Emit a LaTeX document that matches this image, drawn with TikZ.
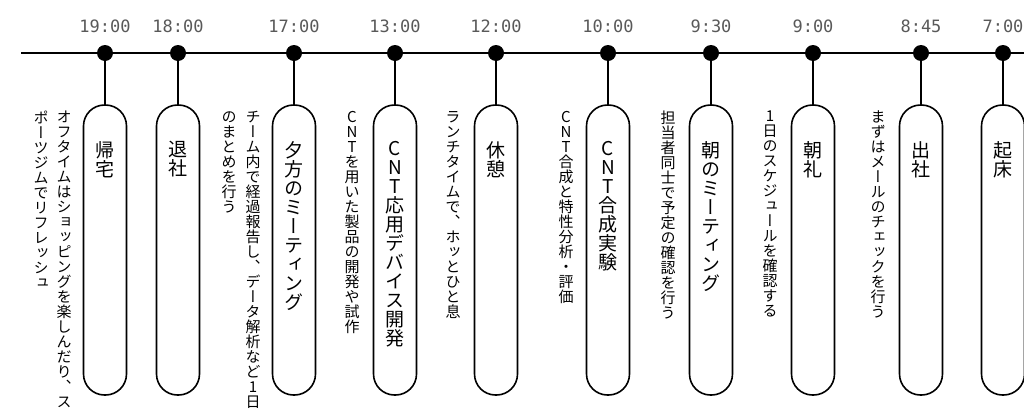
\documentclass[tikz,border=0pt]{standalone}
\usepackage{fontspec}
\newfontfamily\vjp[RawFeature=+vert]{Noto Sans CJK JP}
\newfontfamily\tmono{DejaVu Sans Mono}
\definecolor{timegray}{HTML}{595959}
\makeatletter
\def\vtx@end{\vtx@end}
\def\vtx@loop#1{\ifx\vtx@end#1\else\hbox to 1em{\hss#1\hss}\expandafter\vtx@loop\fi}
\newcommand\vtext[1]{\vbox{\baselineskip=1em\lineskiplimit=-100pt\lineskip=0pt\vtx@loop#1\vtx@end}}
\makeatother
\tikzset{
  dot/.style={circle,fill=black,inner sep=0pt,minimum size=16pt},
  capsule/.style={draw=black,line width=1.6pt,rounded corners=21pt,minimum width=43pt,minimum height=290pt,inner sep=0pt},
  timelbl/.style={font=\tmono\fontsize{17}{20}\selectfont,text=timegray,inner sep=0pt},
  title/.style={font=\vjp\fontsize{19}{22}\selectfont,anchor=north,inner sep=0pt},
  desc/.style={font=\vjp\fontsize{15}{17}\selectfont,anchor=north,inner sep=0pt},
  conn/.style={line width=1.6pt},
}
\begin{document}
\begin{tikzpicture}[x=1pt,y=-1pt]
\useasboundingbox (0,0) rectangle (1024,413);
\coordinate (lstart) at (21,53);
\coordinate (lend) at (1024,53);
\draw[conn] (lstart) -- (lend);
% events
\foreach \n/\x/\t in {a/105/19:00,b/178/18:00,c/294/17:00,d/395/13:00,e/496/12:00,f/608/10:00,g/711/9:30,h/813/9:00,i/921/8:45,j/1003/7:00}{
  \node[dot] (d\n) at (\x,53) {};
  \node[timelbl] (t\n) at (\x,26) {\t};
  \node[capsule] (b\n) at (\x,250) {};
  \draw[conn] (d\n.center) -- (b\n.north);
}
% titles
\node[title] (ta) at (105,141) {\vtext{帰宅}};
\node[title] (tb) at (178,141) {\vtext{退社}};
\node[title] (tc) at (294,141) {\vtext{夕方のミーティング}};
\node[title] (td) at (395,141) {\vtext{CNT応用デバイス開発}};
\node[title] (te) at (496,141) {\vtext{休憩}};
\node[title] (tf) at (608,141) {\vtext{CNT合成実験}};
\node[title] (tg) at (711,141) {\vtext{朝のミーティング}};
\node[title] (th) at (813,141) {\vtext{朝礼}};
\node[title] (ti) at (921,141) {\vtext{出社}};
\node[title] (tj) at (1003,141) {\vtext{起床}};
% descriptions
\node[desc] (xa1) at (64,111) {\vtext{オフタイムはショッピングを楽しんだり、ス}};
\node[desc] (xa2) at (41,111) {\vtext{ポーツジムでリフレッシュ}};
\node[desc] (xc1) at (253,111) {\vtext{チーム内で経過報告し、データ解析など1日}};
\node[desc] (xc2) at (229,111) {\vtext{のまとめを行う}};
\node[desc] (xd1) at (352,111) {\vtext{CNTを用いた製品の開発や試作}};
\node[desc] (xe1) at (453,111) {\vtext{ランチタイムで、ホッとひと息}};
\node[desc] (xf1) at (566,111) {\vtext{CNT合成と特性分析・評価}};
\node[desc] (xg1) at (668,111) {\vtext{担当者同士で予定の確認を行う}};
\node[desc] (xh1) at (770,111) {\vtext{1日のスケジュールを確認する}};
\node[desc] (xi1) at (878,111) {\vtext{まずはメールのチェックを行う}};
\end{tikzpicture}
\end{document}
